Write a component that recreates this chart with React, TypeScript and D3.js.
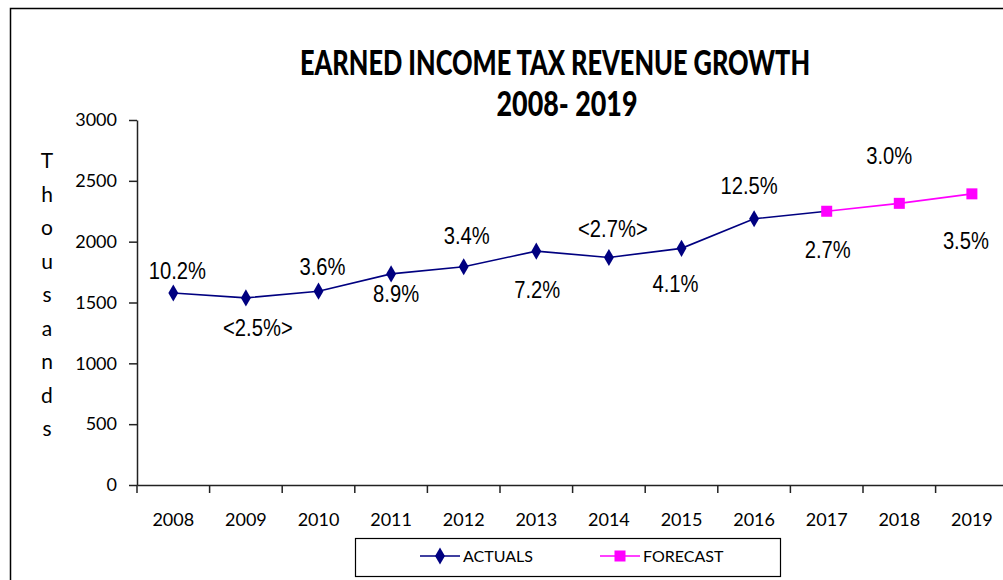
import { useEffect, useRef } from 'react';
import * as d3 from 'd3';

const years = ['2008', '2009', '2010', '2011', '2012', '2013', '2014', '2015', '2016', '2017', '2018', '2019'];
// thousands, 2008–2017 (2017 shared with forecast so the line joins)
const actuals = [1578, 1538, 1593, 1735, 1794, 1922, 1870, 1945, 2188, 2250];
// thousands, 2017–2019
const forecastYears = ['2017', '2018', '2019'];
const forecast = [2250, 2315, 2393];
const growthLabels = ['10.2%', '<2.5%>', '3.6%', '8.9%', '3.4%', '7.2%', '<2.7%>', '4.1%', '12.5%', '2.7%', '3.0%', '3.5%'];
const yTicks = [0, 500, 1000, 1500, 2000, 2500, 3000];

// label placement relative to its point (center of text)
const labelShift: [number, number][] = [
  [4, -23], [12, 30], [4, -25], [5, 20], [3, -31], [1, 38],
  [4, -29], [-6, 35], [-5, -33], [1, 38], [-10, -48], [-6, 47],
];

const W = 1003;
const H = 580;
const calibri = 'Lato, "Open Sans", sans-serif';
const arial = '"Liberation Sans", Arial, sans-serif';

export default function App() {
  const svgRef = useRef<SVGSVGElement>(null);

  useEffect(() => {
    if (!svgRef.current) return;
    const svg = d3.select(svgRef.current);
    svg.selectAll('*').remove();

    svg.append('rect').attr('width', W).attr('height', H).attr('fill', '#fff');

    // outer chart frame (cropped on right and bottom)
    svg.append('path')
      .attr('d', `M10.5,${H + 5} L10.5,8.5 L${W + 5},8.5`)
      .attr('fill', 'none')
      .attr('stroke', '#000')
      .attr('stroke-width', 1.5);

    const left = 137;
    const top = 120;
    const bottom = 485;
    const bandW = 72.6;

    const x = d3.scaleBand<string>().domain(years).range([left, left + bandW * years.length]);
    const cx = (yr: string) => (x(yr) ?? 0) + x.bandwidth() / 2;
    const y = d3.scaleLinear().domain([0, 3000]).range([bottom, top]);

    // title
    svg.append('text')
      .attr('x', 555).attr('y', 75)
      .attr('text-anchor', 'middle')
      .attr('font-family', calibri).attr('font-weight', 900).attr('font-size', 34)
      .attr('textLength', 510).attr('lengthAdjust', 'spacingAndGlyphs')
      .text('EARNED INCOME TAX REVENUE GROWTH');
    svg.append('text')
      .attr('x', 567).attr('y', 116)
      .attr('text-anchor', 'middle')
      .attr('font-family', calibri).attr('font-weight', 900).attr('font-size', 34)
      .attr('textLength', 141).attr('lengthAdjust', 'spacingAndGlyphs')
      .text('2008- 2019');

    // y axis title, stacked letters
    'Thousands'.split('').forEach((ch, i) => {
      svg.append('text')
        .attr('x', 47).attr('y', 168 + i * 33.5)
        .attr('text-anchor', 'middle')
        .attr('font-family', calibri).attr('font-size', 21)
        .text(ch);
    });

    // y axis
    const yAxis = svg.append('g')
      .attr('transform', `translate(${left},0)`)
      .call(d3.axisLeft(y).tickValues(yTicks).tickFormat(d3.format('d')).tickSize(8).tickSizeOuter(0).tickPadding(12));
    yAxis.select('.domain').attr('stroke', '#222').attr('stroke-width', 1.5);
    yAxis.selectAll('line').attr('stroke', '#222').attr('stroke-width', 1.5);
    yAxis.selectAll('text').attr('font-family', calibri).attr('font-size', 18).attr('fill', '#000');

    // x axis
    const xAxis = svg.append('g')
      .attr('transform', `translate(0,${bottom})`)
      .call(d3.axisBottom(x).tickSize(0).tickPadding(28));
    xAxis.select('.domain').attr('stroke', '#222').attr('stroke-width', 1.5);
    xAxis.selectAll('text').attr('font-family', calibri).attr('font-size', 18).attr('fill', '#000');
    // category separator ticks
    xAxis.selectAll('line.sep')
      .data(years.concat(['end']))
      .join('line')
      .attr('class', 'sep')
      .attr('x1', (_, i) => left + i * bandW).attr('x2', (_, i) => left + i * bandW)
      .attr('y1', 0).attr('y2', 8)
      .attr('stroke', '#222').attr('stroke-width', 1.5);

    const line = d3.line<[string, number]>().x((d) => cx(d[0])).y((d) => y(d[1]));

    const actualPts: [string, number][] = actuals.map((v, i) => [years[i], v]);
    const forecastPts: [string, number][] = forecast.map((v, i) => [forecastYears[i], v]);

    svg.append('path').datum(actualPts)
      .attr('fill', 'none').attr('stroke', '#000080').attr('stroke-width', 1.6)
      .attr('d', line);
    svg.append('path').datum(forecastPts)
      .attr('fill', 'none').attr('stroke', '#ff00ff').attr('stroke-width', 1.6)
      .attr('d', line);

    const diamond = d3.symbol().type(d3.symbolDiamond).size(85);
    svg.selectAll('path.act')
      .data(actualPts.slice(0, -1))
      .join('path')
      .attr('class', 'act')
      .attr('transform', (d) => `translate(${cx(d[0])},${y(d[1])})`)
      .attr('d', diamond)
      .attr('fill', '#000080');

    svg.selectAll('rect.fc')
      .data(forecastPts)
      .join('rect')
      .attr('class', 'fc')
      .attr('x', (d) => cx(d[0]) - 5.5).attr('y', (d) => y(d[1]) - 5.5)
      .attr('width', 11).attr('height', 11)
      .attr('fill', '#ff00ff');

    // growth labels
    const allVals = actuals.slice(0, -1).concat(forecast);
    growthLabels.forEach((lab, i) => {
      const px = cx(years[i]) + labelShift[i][0];
      const py = y(allVals[i]) + labelShift[i][1] + 8.5;
      svg.append('text')
        .attr('transform', `translate(${px},${py}) scale(0.86,1)`)
        .attr('text-anchor', 'middle')
        .attr('font-family', arial).attr('font-size', 23.5)
        .attr('fill', '#000')
        .text(lab);
    });

    // legend
    const lg = svg.append('g');
    lg.append('rect')
      .attr('x', 355.5).attr('y', 538.5).attr('width', 425).attr('height', 38)
      .attr('fill', '#fff').attr('stroke', '#000').attr('stroke-width', 1.2);
    const items = [
      { name: 'ACTUALS', color: '#000080', x0: 420, marker: 'diamond' },
      { name: 'FORECAST', color: '#ff00ff', x0: 600, marker: 'square' },
    ];
    items.forEach((it) => {
      lg.append('line')
        .attr('x1', it.x0).attr('x2', it.x0 + 40).attr('y1', 556).attr('y2', 556)
        .attr('stroke', it.color).attr('stroke-width', 1.6);
      if (it.marker === 'diamond') {
        lg.append('path')
          .attr('transform', `translate(${it.x0 + 20},556)`)
          .attr('d', diamond).attr('fill', it.color);
      } else {
        lg.append('rect')
          .attr('x', it.x0 + 14.5).attr('y', 550.5).attr('width', 11).attr('height', 11)
          .attr('fill', it.color);
      }
      lg.append('text')
        .attr('x', it.x0 + 43).attr('y', 562)
        .attr('font-family', calibri).attr('font-size', 16)
        .text(it.name);
    });
  }, []);

  return (
    <svg
      ref={svgRef}
      width={W}
      height={H}
      style={{ position: 'absolute', left: 0, top: 0, display: 'block' }}
    />
  );
}
